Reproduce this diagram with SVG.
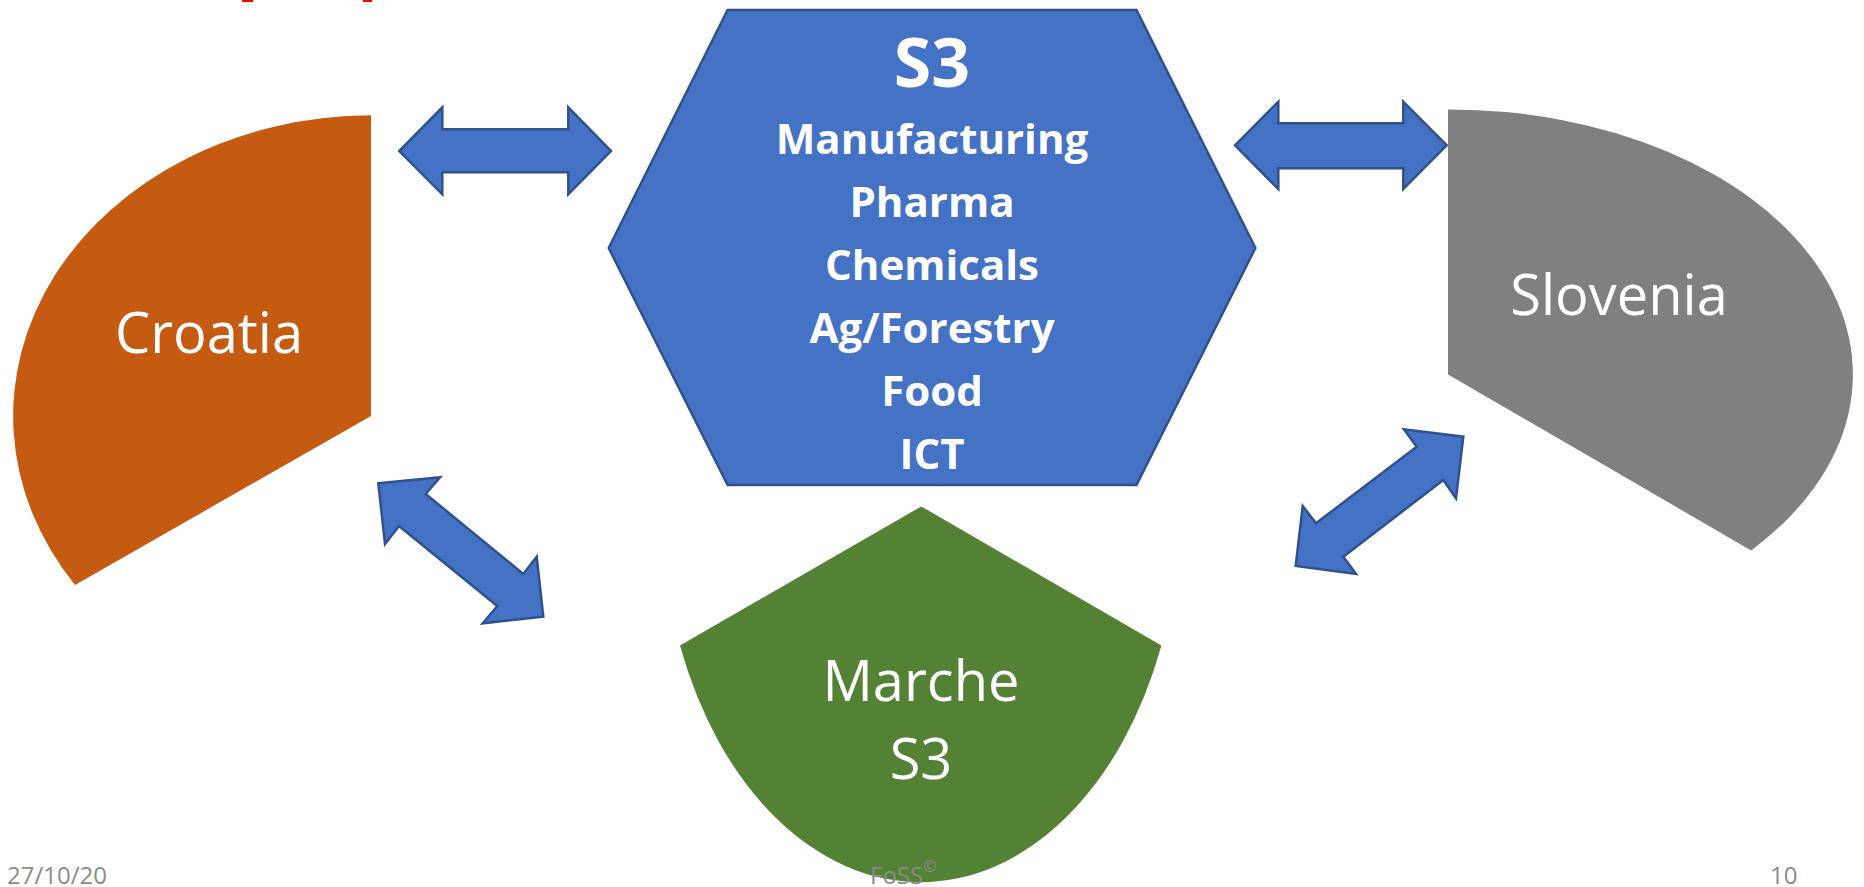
<svg xmlns="http://www.w3.org/2000/svg" width="1864" height="887" viewBox="0 0 1864 887">
  <style>
    .label { font-family: "Open Sans", "Liberation Sans", sans-serif; fill: #FFFFFF; text-anchor: middle; }
    .region { font-size: 56px; }
    .sector { font-size: 42px; font-weight: bold; }
    .title { font-size: 68px; font-weight: bold; }
    .arrow { fill: #4472C4; stroke: #2F528F; stroke-width: 2.5; stroke-linejoin: miter; }
    .footer { font-family: "Open Sans", "Liberation Sans", sans-serif; fill: #8B8B8B; font-size: 24px; }
  </style>
  <rect width="1864" height="887" fill="#FFFFFF"/>

  <!-- clipped red heading remnants at the top edge -->
  <rect x="242" y="0" width="11" height="2" fill="#FF0000"/>
  <rect x="363" y="0" width="9" height="2" fill="#FF0000"/>

  <!-- Croatia: elliptical wedge -->
  <g id="croatia">
    <path d="M 371 416 L 371 115.3 A 359 300.8 0 0 0 75 584.9 Z" fill="#C55A11"/>
    <text class="label region" x="209" y="353">Croatia</text>
  </g>

  <!-- Slovenia: elliptical wedge -->
  <g id="slovenia">
    <path d="M 1448 374.5 L 1448 109.4 A 404.2 265.1 0 0 1 1751.1 550.4 Z" fill="#808080"/>
    <text class="label region" x="1619" y="315">Slovenia</text>
  </g>

  <!-- Marche: elliptical wedge pointing up -->
  <g id="marche">
    <path d="M 921.3 506.4 L 680 645.5 A 259.5 378 0 0 0 1161.4 645.5 Z" fill="#548235"/>
    <text class="label region" x="921" y="701">Marche</text>
    <text class="label region" x="921" y="779">S3</text>
  </g>

  <!-- S3 hexagon with sector list -->
  <g id="s3">
    <polygon points="727.6,10 1136.5,10 1255.4,248 1136.5,485 727.6,485 608.7,248" fill="#4472C4" stroke="#2F528F" stroke-width="2.5"/>
    <text class="label title" x="932" y="87">S3</text>
    <text class="label sector" x="932" y="154">Manufacturing</text>
    <text class="label sector" x="932" y="217">Pharma</text>
    <text class="label sector" x="932" y="280">Chemicals</text>
    <text class="label sector" x="932" y="343">Ag/Forestry</text>
    <text class="label sector" x="932" y="406">Food</text>
    <text class="label sector" x="932" y="469">ICT</text>
  </g>

  <!-- double-headed block arrows between the regions -->
  <g id="connectors">
    <polygon class="arrow" points="399.3,151 442.3,107.3 442.3,129.3 568.3,129.3 568.3,107.3 611,151 568.3,194.3 568.3,172.3 442.3,172.3 442.3,194.3"/>
    <polygon class="arrow" points="1235,145.3 1278.3,101.7 1278.3,123.3 1403.3,123.3 1403.3,101.7 1446.7,145.3 1403.3,189 1403.3,168.3 1278.3,168.3 1278.3,189"/>
    <polygon class="arrow" points="378.3,483.3 440,477.3 425.7,494 523.3,574 536.7,556.7 543.3,616.7 482.7,623.3 497.3,606 399,526 385,544"/>
    <polygon class="arrow" points="1463.3,436.7 1456,498.3 1443.3,480 1343.3,556.7 1356,574 1295.7,566 1302.7,506 1316,523.3 1416.7,446.7 1404,429.3"/>
  </g>

  <!-- slide footer -->
  <g id="footer">
    <text class="footer" x="7" y="884">27/10/20</text>
    <text class="footer" x="870" y="884">FoSS<tspan font-size="16" dy="-12">©</tspan></text>
    <text class="footer" x="1770" y="884">10</text>
  </g>
</svg>
